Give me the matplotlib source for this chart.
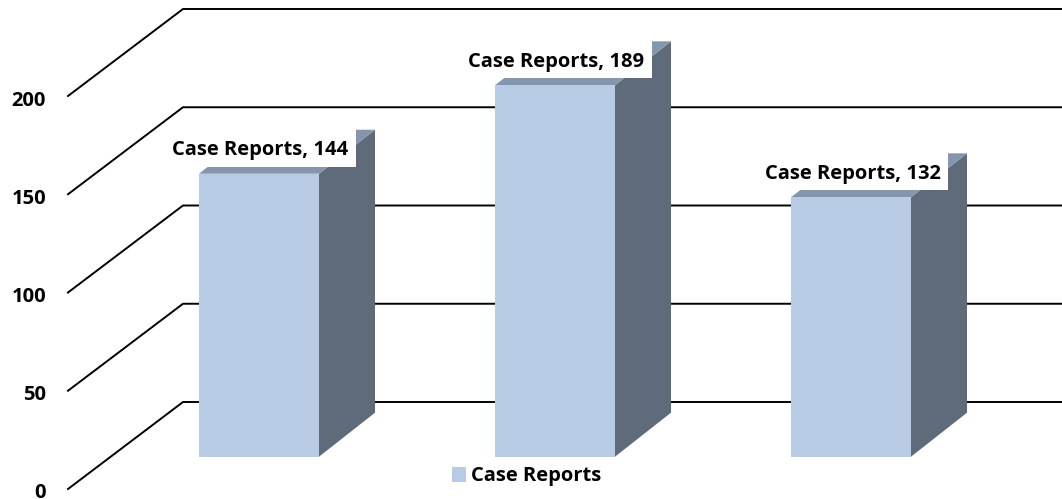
import matplotlib

matplotlib.use("Agg")
import matplotlib.pyplot as plt
from matplotlib.patches import Patch, Polygon, Rectangle

plt.rcParams["font.family"] = ["Open Sans", "DejaVu Sans"]
plt.rcParams["font.weight"] = "bold"

series_name = "Case Reports"
values = [144, 189, 132]
y_ticks = [0, 50, 100, 150, 200]

# everything below is in image pixels, the y axis is flipped to match
PX_PER_UNIT = 1.965
BASE_Y = 456.7
WALL_FRONT_X, WALL_FRONT_Y = 68, 489
WALL_BACK_X, WALL_BACK_Y = 183, 402
BAR_LEFT = [199, 495, 791]
BAR_WIDTH = 120
DEPTH_X, DEPTH_Y = 56, 44

FRONT = "#b7cbe4"
SIDE = "#5f6b7a"
TOP = "#8496ad"
FS = 14.5

fig = plt.figure(figsize=(10.62, 4.99), dpi=100)
ax = fig.add_axes([0, 0, 1, 1])
ax.set_xlim(0, 1062)
ax.set_ylim(499, 0)
ax.axis("off")

for v in y_ticks:
    front_y = WALL_FRONT_Y - v * PX_PER_UNIT
    back_y = WALL_BACK_Y - v * PX_PER_UNIT
    ax.plot([WALL_FRONT_X, WALL_BACK_X, 1062], [front_y, back_y, back_y],
            color="black", lw=1.4, solid_joinstyle="miter", zorder=1)
    ax.text(46, front_y + 4.5, str(v), ha="right", va="center", fontsize=FS, color="black")

for left, val in zip(BAR_LEFT, values):
    top_y = BASE_Y - val * PX_PER_UNIT
    right = left + BAR_WIDTH

    # side, top, front of the box
    ax.add_patch(Polygon([(right, BASE_Y), (right + DEPTH_X, BASE_Y - DEPTH_Y),
                          (right + DEPTH_X, top_y - DEPTH_Y), (right, top_y)],
                         facecolor=SIDE, edgecolor="none", zorder=2))
    ax.add_patch(Polygon([(left, top_y), (left + DEPTH_X, top_y - DEPTH_Y),
                          (right + DEPTH_X, top_y - DEPTH_Y), (right, top_y)],
                         facecolor=TOP, edgecolor="none", zorder=3))
    ax.add_patch(Rectangle((left, top_y), BAR_WIDTH, BASE_Y - top_y,
                           facecolor=FRONT, edgecolor="none", zorder=4))

    # data label sits on a white box that hides part of the top face
    box_right = right + 37
    box_bottom = top_y - 7
    ax.add_patch(Rectangle((box_right - 189, box_bottom - 40), 189, 40,
                           facecolor="white", edgecolor="none", zorder=5))
    ax.text(box_right - 7.5, box_bottom - 16.5, f"{series_name}, {val}", ha="right", va="center",
            fontsize=FS, color="black", zorder=6)

handles = [Patch(facecolor=FRONT, edgecolor="none", label=series_name)]
ax.legend(handles=handles, loc="center", bbox_to_anchor=(527 / 1062, 1 - 476.5 / 499),
          frameon=False, fontsize=FS, handlelength=0.7, handleheight=0.7, handletextpad=0.25,
          borderpad=0, borderaxespad=0)

fig.savefig("out.png", dpi=100)
plt.close(fig)
